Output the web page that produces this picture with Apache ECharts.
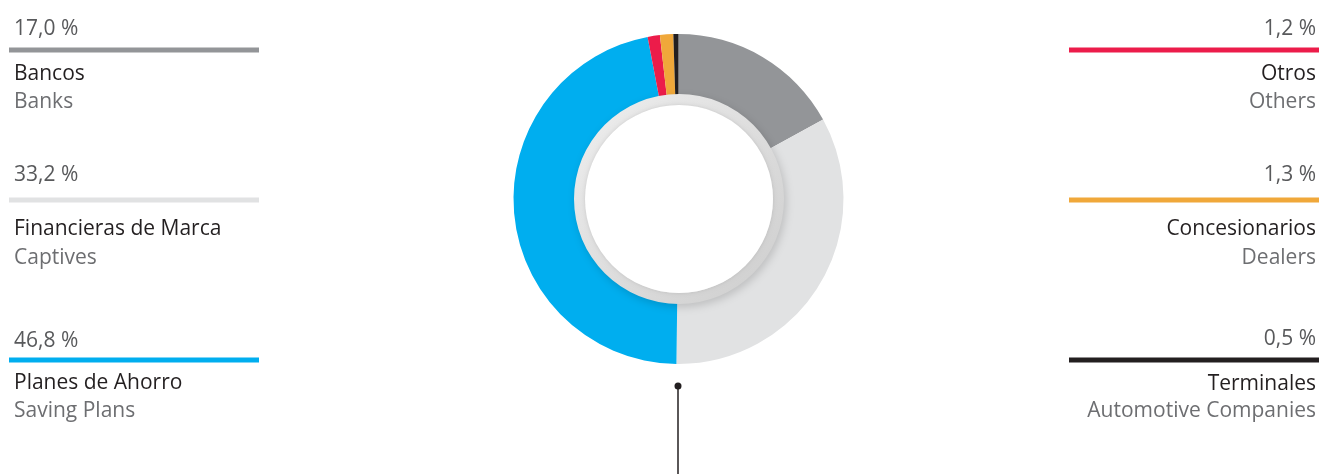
<!DOCTYPE html>
<html><head><meta charset="utf-8">
<script src="https://cdn.jsdelivr.net/npm/echarts@6/dist/echarts.min.js"></script>
<style>html,body{margin:0;padding:0;background:#fff}#c{width:1321px;height:474px}</style>
</head><body><div id="c"></div>
<script>
const namesEs = ['Bancos','Financieras de Marca','Planes de Ahorro','Otros','Concesionarios','Terminales'];
const namesEn = ['Banks','Captives','Saving Plans','Others','Dealers','Automotive Companies'];
const values = [17.0, 33.2, 46.8, 1.2, 1.3, 0.5];
const colors = ['#939598','#e1e2e3','#00aeef','#ec1c4a','#f0a83a','#231f20'];

const FONT = 'Open Sans';
const FS = 21;
const DY = 2;
const rowsLeft = [{p:27,b:50,n:72,e:100},{p:173,b:200,n:227,e:256},{p:339,b:360,n:381,e:409}];
const rowsRight = [{p:27,b:50,n:72,e:100},{p:173,b:200,n:227,e:256},{p:337,b:360,n:382,e:409}];
const fmt = v => v.toFixed(1).replace('.', ',') + ' %';

const graphics = [];
values.forEach((v, i) => {
  const left = i < 3;
  const r = left ? rowsLeft[i] : rowsRight[i - 3];
  const x = left ? 14 : 1316;
  const align = left ? 'left' : 'right';
  const font = FS + 'px "' + FONT + '"';
  graphics.push({type:'text', x:x, y:r.p + DY, style:{text:fmt(v), fill:'#58595b', font:font, align:align, verticalAlign:'middle'}});
  graphics.push({type:'rect', shape:{x: left ? 9 : 1069, y:r.b - 2.5, width:250, height:5}, style:{fill:colors[i]}});
  graphics.push({type:'text', x:x, y:r.n + DY, style:{text:namesEs[i], fill:'#231f20', font:font, align:align, verticalAlign:'middle'}});
  graphics.push({type:'text', x:x, y:r.e + DY, style:{text:namesEn[i], fill:'#6d6e71', font:font, align:align, verticalAlign:'middle'}});
});
graphics.push({type:'ring', z:10, shape:{cx:679, cy:199, r:105, r0:94},
  style:{fill:{type:'linear',x:0,y:0,x2:1,y2:1,colorStops:[{offset:0,color:'#efefef'},{offset:1,color:'#cdcdcd'}]},
  shadowBlur:8, shadowColor:'rgba(0,0,0,0.16)', shadowOffsetX:2, shadowOffsetY:3}});
graphics.push({type:'circle', z:11, shape:{cx:679, cy:199, r:94}, style:{fill:'#ffffff', shadowBlur:4, shadowColor:'rgba(0,0,0,0.12)'}});
graphics.push({type:'line', z:10, shape:{x1:678, y1:386, x2:678, y2:474}, style:{stroke:'#231f20', lineWidth:1.5}});
graphics.push({type:'circle', z:10, shape:{cx:678, cy:386, r:3.5}, style:{fill:'#231f20'}});

const chart = echarts.init(document.getElementById('c'), null, {renderer:'canvas'});
chart.setOption({
  animation:false,
  series:[{
    type:'pie', center:[678.5,199], radius:[100,165], startAngle:90, clockwise:true,
    label:{show:false}, labelLine:{show:false}, silent:true,
    itemStyle:{borderWidth:0},
    data: values.map((v,i)=>({name:namesEs[i], value:v, itemStyle:{color:colors[i]}}))
  }],
  graphic: graphics
});
</script></body></html>
